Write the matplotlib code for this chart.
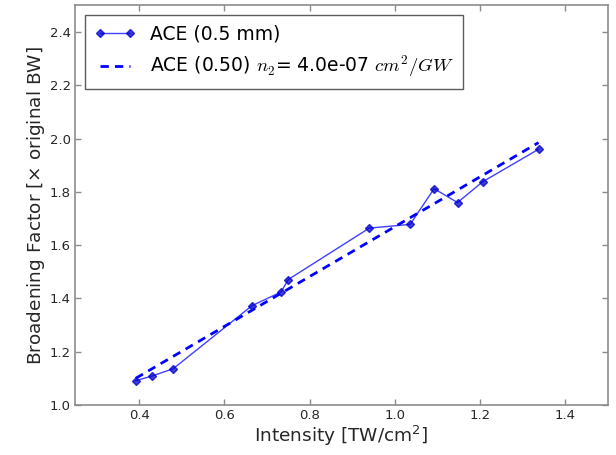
import matplotlib
matplotlib.use('Agg')
import matplotlib.pyplot as plt
import numpy as np

# Data
intensity = [0.392, 0.431, 0.480, 0.665, 0.733, 0.750, 0.940, 1.036,
             1.092, 1.147, 1.206, 1.337]
broadening = [1.091, 1.109, 1.136, 1.373, 1.424, 1.471, 1.664, 1.678,
              1.812, 1.760, 1.838, 1.960]
fit_intensity = [0.392, 1.337]
fit_broadening = [1.100, 1.985]

SPINE = '#8c8c8c'
TEXT = '#262626'

plt.rcParams['font.family'] = 'DejaVu Sans'

fig = plt.figure(figsize=(6.16, 4.55), dpi=100, facecolor='white')
ax = fig.add_axes([0.122, 0.110, 0.865, 0.878])

ax.plot(intensity, broadening, color='blue', alpha=0.75, linewidth=1.0,
        marker='D', markersize=4.5, markerfacecolor='#0000cc',
        markeredgecolor='#0000cc', label='ACE (0.5 mm)')
ax.plot(fit_intensity, fit_broadening, color='blue', linewidth=2,
        linestyle='--', dashes=(3, 2.2),
        label=r'ACE (0.50) $n_2$= 4.0e-07 $cm^2/GW$')

ax.set_xlim(0.25, 1.5)
ax.set_ylim(1.0, 2.5)
ax.set_xticks(np.arange(0.4, 1.41, 0.2))
ax.set_yticks(np.arange(1.0, 2.41, 0.2))
ax.xaxis.set_major_formatter(matplotlib.ticker.FormatStrFormatter('%.1f'))
ax.yaxis.set_major_formatter(matplotlib.ticker.FormatStrFormatter('%.1f'))

ax.tick_params(direction='in', length=4, width=1, colors=SPINE,
               labelcolor=TEXT, labelsize=9.5, top=True, right=True, pad=3)
for sp in ax.spines.values():
    sp.set_color(SPINE)
    sp.set_linewidth(1.2)

ax.set_xlabel(r'Intensity [TW/cm$^2$]', fontsize=13.3, color=TEXT,
              math_fontfamily='dejavusans', labelpad=1)
ax.set_ylabel(r'Broadening Factor [$\times$ original BW]', fontsize=13.3,
              color=TEXT, math_fontfamily='dejavusans', labelpad=2)

leg = ax.legend(loc='upper left', fontsize=13.5, fancybox=False,
                borderpad=0.5, labelspacing=0.55, handlelength=2.2,
                handletextpad=0.8, borderaxespad=0.5, numpoints=2)
leg.get_frame().set_edgecolor('#333333')
leg.get_frame().set_linewidth(1.0)
for t in leg.get_texts():
    t.set_math_fontfamily('cm')
    t.set_color('black')

fig.savefig('out.png', dpi=100, facecolor='white')
